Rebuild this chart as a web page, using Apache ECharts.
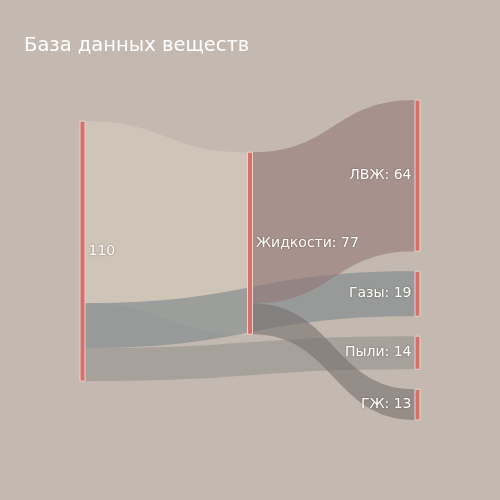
<!DOCTYPE html>
<html><head><meta charset="utf-8">
<script src="https://cdn.jsdelivr.net/npm/echarts@6/dist/echarts.min.js"></script>
<style>html,body{margin:0;padding:0;background:#c4b9b0}#c{width:500px;height:500px}</style>
</head><body><div id="c"></div>
<script>
const titleText = 'База данных веществ';
const nodeNames = ['Всего', 'Жидкости', 'ЛВЖ', 'Газы', 'Пыли', 'ГЖ'];
const linkSources = ['Всего', 'Всего', 'Всего', 'Жидкости', 'Жидкости'];
const linkTargets = ['Жидкости', 'Газы', 'Пыли', 'ЛВЖ', 'ГЖ'];
const linkValues = [77, 19, 14, 64, 13];
const linkColors = ['#d6cbbc', '#798588', '#94918d', '#927674', '#76706e'];

const chart = echarts.init(document.getElementById('c'), null, {renderer: 'canvas'});
const nodes = nodeNames.map((n, i) => ({
  name: n,
  label: {position: (n === 'ЛВЖ' || n === 'Газы' || n === 'Пыли' || n === 'ГЖ') ? 'left' : 'right'}
}));
const links = linkValues.map((v, i) => ({
  source: linkSources[i], target: linkTargets[i], value: v,
  lineStyle: {color: linkColors[i], opacity: 0.6}
}));
chart.setOption({
  backgroundColor: '#c4b9b0',
  title: {text: titleText, left: 19, top: 31, textStyle: {color: '#ffffff', fontSize: 19.5, fontWeight: 'normal', fontFamily: 'DejaVu Sans'}},
  series: [{
    type: 'sankey',
    left: 80, right: 80, top: 100, bottom: 80,
    nodeWidth: 5, nodeGap: 20,
    draggable: false,
    emphasis: {disabled: true},
    data: nodes, links: links,
    itemStyle: {color: '#d6706a', borderColor: '#ead2cb', borderWidth: 1},
    lineStyle: {curveness: 0.5},
    label: {
      color: '#ffffff', fontSize: 14, fontFamily: 'DejaVu Sans', distance: 3,
      textShadowColor: 'rgba(60,40,30,0.5)', textShadowBlur: 2,
      formatter: p => p.name === 'Всего' ? String(p.value) : p.name + ': ' + p.value
    }
  }]
});
</script></body></html>
